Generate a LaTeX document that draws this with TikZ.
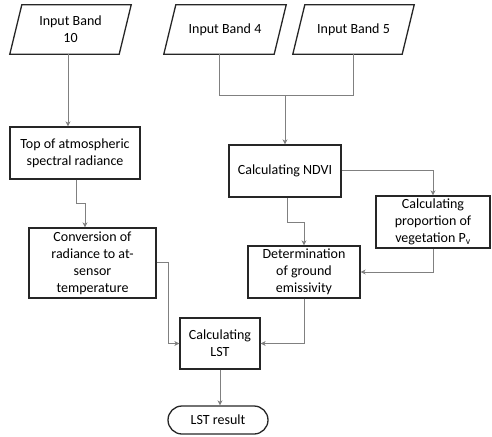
\documentclass[tikz,border=0pt]{standalone}
\usepackage{fontspec}
\setmainfont{Carlito}
\usetikzlibrary{arrows.meta,shapes.misc,calc}
\begin{document}
\begin{tikzpicture}[x=1pt,y=-1pt,
  box/.style={draw=black!85,line width=1.3pt,fill=white,align=center,inner sep=0pt,
    font=\fontsize{14}{17}\selectfont},
  para/.style={align=center,inner sep=0pt,font=\fontsize{14}{17}\selectfont},
  term/.style={draw=black!85,line width=1.3pt,rounded rectangle,align=center,inner sep=0pt,
    font=\fontsize{14}{17}\selectfont},
  conn/.style={draw=black!50,line width=0.9pt},
  arr/.style={conn,-{Stealth[length=5pt,width=5pt,inset=1.5pt]}}]
\useasboundingbox (0,0) rectangle (492,436);
% parallelograms
\node[para,minimum width=109,minimum height=49] (b10) at (70.5,29.5) {Input Band\\10};
\node[para,minimum width=110,minimum height=49] (b4) at (225,29.5) {Input Band 4};
\node[para,minimum width=109,minimum height=49] (b5) at (353.5,29.5) {Input Band 5};
\foreach \n in {b10,b4,b5}{
  \draw[draw=black!85,line width=1.3pt]
    ([xshift=-6]\n.south west) -- ([xshift=6]\n.north west) -- ([xshift=6]\n.north east)
    -- ([xshift=-6]\n.south east) -- cycle;
}
% boxes
\node[box,minimum width=130,minimum height=52] (toa) at (75,153) {Top of atmospheric\\spectral radiance};
\node[box,minimum width=127,minimum height=70] (conv) at (92.5,263) {Conversion of\\radiance to at-\\sensor\\temperature};
\node[box,minimum width=112,minimum height=52] (ndvi) at (285,171) {Calculating NDVI};
\node[box,minimum width=114,minimum height=52] (prop) at (433,222) {Calculating\\proportion of\\vegetation P\textsubscript{v}};
\node[box,minimum width=112,minimum height=52] (det) at (304,272) {Determination\\of ground\\emissivity};
\node[box,minimum width=80,minimum height=51] (lst) at (220,343.5) {Calculating\\LST};
\node[term,minimum width=100,minimum height=28] (res) at (218,420) {LST result};
\coordinate (j) at (285,95);
% connectors
\draw[arr] ([xshift=-2.5]b10.south) -- ([xshift=-7]toa.north);
\draw[conn] ([xshift=-6]b4.south) |- (j);
\draw[conn] (b5.south) |- (j);
\draw[arr] (j) -- (ndvi.north);
\draw[arr] ([yshift=1]ndvi.east) -| (prop.north);
\draw[arr] ([xshift=1]toa.south) -- ++(0,24) -| ([xshift=-7.5]conv.north);
\draw[arr] ([yshift=1]conv.east) -- ++(12,0) |- (lst.west);
\draw[arr] ([xshift=2]ndvi.south) -- ++(0,25) -| (det.north);
\draw[arr] (prop.south) |- (det.east);
\draw[arr] (det.south) |- (lst.east);
\draw[arr] (lst.south) -- (lst.south |- res.north);
\end{tikzpicture}
\end{document}
